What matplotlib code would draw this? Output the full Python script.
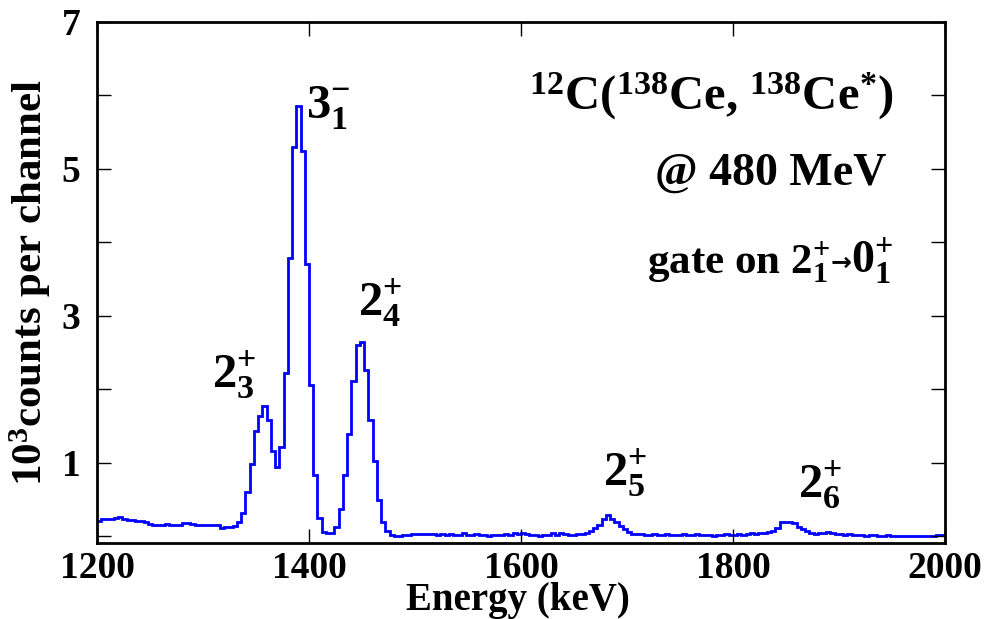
import numpy as np
import matplotlib.pyplot as plt

plt.rcParams['font.family'] = 'Liberation Serif'
plt.rcParams['font.weight'] = 'bold'
plt.rcParams['mathtext.fontset'] = 'custom'
plt.rcParams['mathtext.rm'] = 'Liberation Serif:bold'
plt.rcParams['mathtext.bf'] = 'Liberation Serif:bold'
plt.rcParams['mathtext.it'] = 'Liberation Serif:bold'
plt.rcParams['mathtext.default'] = 'rm'

# spectrum, 4 keV bins from 1200 keV, in 10^3 counts per channel
e_start = 1200
bin_width = 4

# 1200 - 1332 keV
counts_low = [0.21, 0.24, 0.24, 0.23, 0.25, 0.27, 0.23, 0.22, 0.22, 0.21,
              0.21, 0.19, 0.17, 0.16, 0.16, 0.16, 0.17, 0.15, 0.15, 0.16,
              0.18, 0.18, 0.17, 0.15, 0.15, 0.15, 0.15, 0.16, 0.16, 0.11,
              0.13, 0.13, 0.14, 0.20]

# 1336 - 1472 keV (2+3, 3-1, 2+4)
counts_peaks = [0.32, 0.60, 0.99, 1.43, 1.64, 1.77, 1.58, 1.16, 0.95, 1.21,
                2.23, 3.79, 5.30, 5.86, 5.24, 3.71, 2.06, 0.84, 0.25, 0.06,
                0.05, 0.04, 0.13, 0.37, 0.83, 1.40, 2.12, 2.61, 2.65, 2.27,
                1.59, 1.02, 0.50, 0.20, 0.07]

# 1476 - 1996 keV (2+5, 2+6)
counts_high = [0.02, 0.01, 0.01, 0.02, 0.02, 0.03, 0.03, 0.03, 0.03, 0.03,
               0.03, 0.02, 0.03, 0.02, 0.03, 0.02, 0.02, 0.04, 0.02, 0.02,
               0.03, 0.02, 0.02, 0.01, 0.02, 0.02, 0.02, 0.03, 0.02, 0.04,
               0.03, 0.04, 0.03, 0.02, 0.02, 0.01, 0.02, 0.02, 0.04, 0.02,
               0.04, 0.03, 0.02, 0.02, 0.03, 0.03,
               0.05, 0.07, 0.11, 0.16, 0.23, 0.29, 0.24, 0.19, 0.14, 0.10,
               0.06, 0.03,
               0.03, 0.03, 0.02, 0.02, 0.03, 0.02, 0.02, 0.03, 0.02, 0.02,
               0.02, 0.03, 0.02, 0.02, 0.03, 0.02, 0.02, 0.02, 0.01, 0.02,
               0.02, 0.03, 0.02, 0.02, 0.03, 0.02, 0.03, 0.04, 0.03, 0.04,
               0.05,
               0.06, 0.07, 0.12, 0.19, 0.20, 0.20, 0.18, 0.13, 0.10, 0.08,
               0.04, 0.03, 0.04, 0.04, 0.06, 0.04, 0.03, 0.03, 0.02, 0.03,
               0.02, 0.02, 0.02, 0.01, 0.02, 0.02, 0.01, 0.01, 0.02, 0.01,
               0.01, 0.01, 0.00, 0.01, 0.01, 0.00, 0.01, 0.00, 0.01, 0.01,
               0.02, 0.02]

counts = np.array(counts_low + counts_peaks + counts_high)
edges = e_start + bin_width * np.arange(len(counts) + 1)

# level labels: (text, energy, height)
peak_labels = [(r'$3^{-}_{1}$', 1418, 5.84),
               (r'$2^{+}_{4}$', 1467, 3.18),
               (r'$2^{+}_{3}$', 1329, 2.20),
               (r'$2^{+}_{5}$', 1698, 0.86),
               (r'$2^{+}_{6}$', 1882, 0.70)]

x_ticks = [1200, 1400, 1600, 1800, 2000]
y_ticks = [0, 1, 2, 3, 4, 5, 6, 7]
y_tick_labels = ['', '1', '', '3', '', '5', '', '7']

fig = plt.figure(figsize=(9.9, 6.19), dpi=100)
ax = fig.add_axes([0.098, 0.123, 0.8565, 0.8415])

ax.stairs(counts, edges, baseline=None, color='blue', linewidth=2)

ax.set_xlim(1200, 2000)
ax.set_ylim(-0.088, 7)
ax.set_xticks(x_ticks)
ax.set_yticks(y_ticks)
ax.set_yticklabels(y_tick_labels)
ax.tick_params(direction='in', length=10, width=1, top=True, right=True,
               labelsize=27)
ax.tick_params(axis='x', pad=6)
ax.tick_params(axis='y', pad=12)
for s in ax.spines.values():
    s.set_linewidth(2)

# x label sits right under the tick labels, as in the original
fig.text(0.523, 0.0145, 'Energy (keV)', fontsize=28, fontweight='bold',
         ha='center', va='baseline')
ax.set_ylabel(r'$10^{3}$counts per channel', fontsize=31, fontweight='bold',
              labelpad=6)

for txt, xe, yv in peak_labels:
    ax.text(xe, yv, txt, fontsize=35, ha='center', va='center')

ax.text(1951, 5.99, r'$^{12}$C($^{138}$Ce, $^{138}$Ce$^{*}$)', fontsize=35,
        ha='right', va='center')
ax.text(1945, 4.94, '@ 480 MeV', fontsize=33, ha='right', va='center')

t_end = ax.text(1951, 3.75, r'$0^{+}_{1}$', fontsize=33, ha='right',
                va='center')
t_arrow = ax.annotate('\u2192', xy=(0, 0.45), xycoords=t_end, fontsize=18,
                      ha='right', va='center', family='DejaVu Sans')
ax.annotate(r'gate on $2^{+}_{1}$', xy=(0, 0.5), xycoords=t_arrow,
            fontsize=31, ha='right', va='center')

fig.savefig('out.png', dpi=100)
